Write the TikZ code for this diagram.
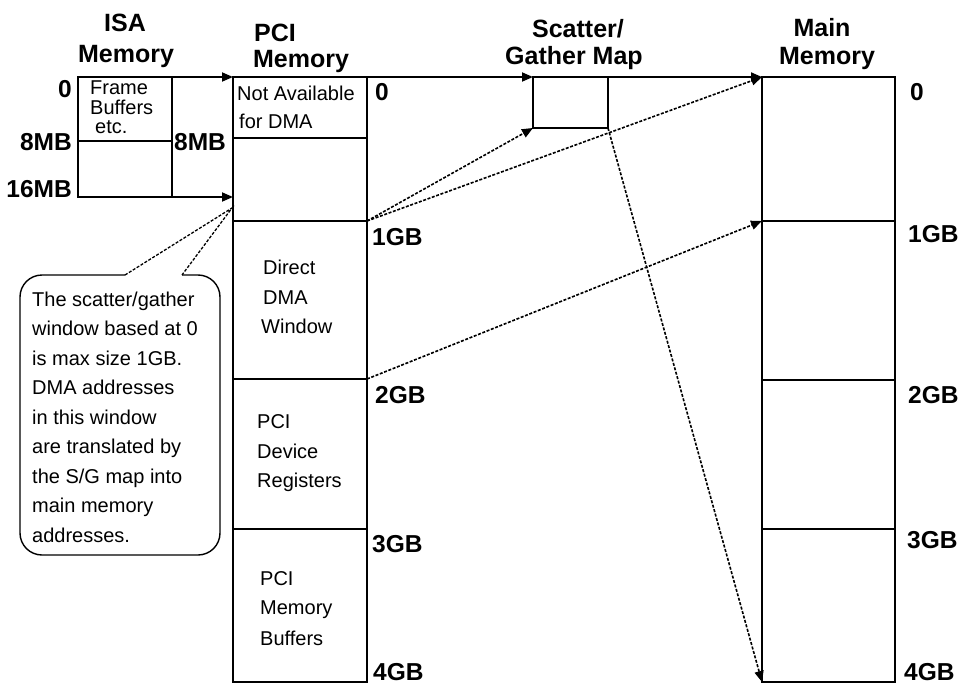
\documentclass[tikz,border=0pt]{standalone}
\usepackage{fontspec}
\setmainfont{Liberation Sans}
\usetikzlibrary{arrows.meta}
\begin{document}
\begin{tikzpicture}[x=1pt,y=-1pt,
  box/.style={line width=1.8pt},
  dsh/.style={line width=1.6pt,dash pattern=on 3pt off 1.6pt},
  tip/.style={-{Triangle[length=11pt,width=9pt]}},
  lbl/.style={font=\fontsize{24.5}{24}\selectfont\bfseries, inner sep=0pt},
  ttl/.style={font=\fontsize{25}{27}\selectfont\bfseries, inner sep=0pt, anchor=base},
  txt/.style={font=\fontsize{20}{24}\selectfont, inner sep=0pt, anchor=base west},
]
\useasboundingbox (0,0) rectangle (964,685);

% ---------- key coordinates ----------
\coordinate (isaTL) at (78,77);
\coordinate (isaBL) at (78,197);
\coordinate (isaTR) at (172,77);
\coordinate (isaBR) at (172,197);
\coordinate (pciTL) at (233,77);
\coordinate (pciBLa) at (233,197);
\coordinate (pciTR) at (367,77);
\coordinate (pciBR) at (367,682);
\coordinate (pci1) at (367,221);
\coordinate (pci2) at (367,379);
\coordinate (sgTL) at (533,77);
\coordinate (sgBL) at (533,128);
\coordinate (sgTR) at (608,77);
\coordinate (sgBR) at (608,128);
\coordinate (mmTL) at (762,77);
\coordinate (mm1) at (762,221);
\coordinate (mmBL) at (762,682);
\coordinate (mmBR) at (895,682);
\coordinate (cTip) at (232,208);
\coordinate (cA) at (125,275);
\coordinate (cB) at (182,275);

% ---------- titles ----------
\node[ttl] (tIsa1) at (125,32) {ISA};
\node[ttl] (tIsa2) at (126,63) {Memory};
\node[ttl] (tPci1) at (275,42) {PCI};
\node[ttl] (tPci2) at (301,68) {Memory};
\node[ttl] (tSg1) at (578,38) {Scatter/};
\node[ttl] (tSg2) at (574,65) {Gather Map};
\node[ttl] (tMm1) at (822,37) {Main};
\node[ttl] (tMm2) at (827,65) {Memory};

% ---------- ISA memory ----------
\draw[box] (isaTL) rectangle (isaBR);
\draw[box] (78,141) -- (172,141);
\draw[box,tip] (isaTL) -- (pciTL);
\draw[box,tip] (isaBL) -- (pciBLa);
\node[txt] (fr1) at (90,95) {Frame};
\node[txt] (fr2) at (90,114) {Buffers};
\node[txt] (fr3) at (95,133) {etc.};
\node[lbl,anchor=base east] (i0) at (72,97) {0};
\node[lbl,anchor=base east] (i8) at (72,150) {8MB};
\node[lbl,anchor=base east] (i16) at (72,197) {16MB};
\node[lbl,anchor=base west] (i8b) at (174,150) {8MB};

% ---------- PCI memory ----------
\draw[box] (pciTL) rectangle (pciBR);
\draw[box] (233,138) -- (367,138);
\draw[box] (233,221) -- (pci1);
\draw[box] (233,379) -- (pci2);
\draw[box] (233,529) -- (367,529);
\node[txt] (p1) at (237,100) {Not Available};
\node[txt] (p2) at (239,128) {for DMA};
\node[txt] (p3) at (263,274) {Direct};
\node[txt] (p4) at (263,304) {DMA};
\node[txt] (p5) at (261,333) {Window};
\node[txt] (p6) at (257,428) {PCI};
\node[txt] (p7) at (257,458) {Device};
\node[txt] (p8) at (257,487) {Registers};
\node[txt] (p9) at (260,585) {PCI};
\node[txt] (p10) at (260,614) {Memory};
\node[txt] (p11) at (260,645) {Buffers};
\node[lbl,anchor=base west] (q0) at (375,100) {0};
\node[lbl,anchor=base west] (q1) at (372,245) {1GB};
\node[lbl,anchor=base west] (q2) at (375,403) {2GB};
\node[lbl,anchor=base west] (q3) at (372,552) {3GB};
\node[lbl,anchor=base west] (q4) at (373,680) {4GB};

% ---------- Scatter/Gather map ----------
\draw[box,tip] (pciTR) -- (sgTL);
\draw[box] (sgTL) rectangle (sgBR);
\draw[box,tip] (sgTR) -- (mmTL);

% ---------- Main memory ----------
\draw[box] (mmTL) rectangle (mmBR);
\draw[box] (mm1) -- (895,221);
\draw[box] (762,380) -- (895,380);
\draw[box] (762,529) -- (895,529);
\node[lbl,anchor=base west] (m0) at (910,100) {0};
\node[lbl,anchor=base west] (m1) at (908,242) {1GB};
\node[lbl,anchor=base west] (m2) at (908,403) {2GB};
\node[lbl,anchor=base west] (m3) at (907,548) {3GB};
\node[lbl,anchor=base west] (m4) at (904,680) {4GB};

% ---------- mapping arrows ----------
\draw[dsh,tip] (pci1) -- (sgBL);
\draw[dsh,tip] (pci1) -- (mmTL);
\draw[dsh,tip] (pci2) -- (mm1);
\draw[dsh,tip] (sgBR) -- (mmBL);

% ---------- callout ----------
\draw[line width=1.4pt, rounded corners=22pt]
  (cA) -- (20,275) -- (20,555) -- (220,555) -- (220,275) -- (cB);
\draw[dsh,line width=1.3pt] (cA) -- (cTip) -- (cB);
\foreach \t [count=\k from 0] in {The scatter/gather, window based at 0,
  is max size 1GB., DMA addresses, in this window, are translated by,
  the S/G map into, main memory, addresses.}
  \node[txt] (cl\k) at (32,306+29.5*\k) {\t};
\end{tikzpicture}
\end{document}
